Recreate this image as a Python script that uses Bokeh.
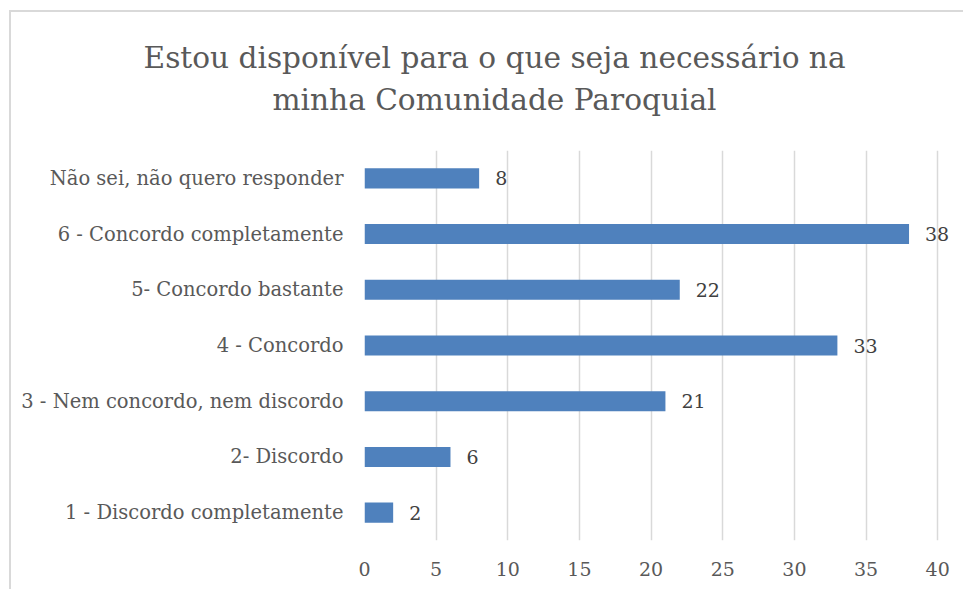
from bokeh.plotting import figure
from bokeh.layouts import column
from bokeh.models import ColumnDataSource, FactorRange, Range1d, SingleIntervalTicker, LabelSet
from bokeh.core.properties import value
from bokeh.embed import file_html
from bokeh.resources import INLINE

# ---- data ----
categories = [
    "1 - Discordo completamente",
    "2- Discordo",
    "3 - Nem concordo, nem discordo",
    "4 - Concordo",
    "5- Concordo bastante",
    "6 - Concordo completamente",
    "Não sei, não quero responder",
]
counts = [2, 6, 21, 33, 22, 38, 8]
title_lines = ["Estou disponível para o que seja necessário na", "minha Comunidade Paroquial"]
tick_step = 5

FONT = "DejaVu Serif"
BAR = "#4f81bd"
GRID = "#d9d9d9"
LABEL_C = "#595959"
VALUE_C = "#404040"

W = 952
TITLE_H = 138
CHART_H = 439

# ---- title strip ----
t = figure(width=W, height=TITLE_H, x_range=Range1d(0, 1), y_range=Range1d(0, 1),
           output_backend="svg", toolbar_location=None,
           min_border_left=0, min_border_right=0, min_border_top=0, min_border_bottom=0)
t.frame_align = False
t.axis.visible = False
t.grid.visible = False
t.outline_line_color = None
t.background_fill_color = "white"
t.border_fill_color = "white"
tsrc = ColumnDataSource(dict(x=[0.5074, 0.5074], y=[0.667, 0.363], txt=title_lines))
t.text(x="x", y="y", text="txt", source=tsrc, text_align="center", text_baseline="alphabetic",
       text_font=value(FONT), text_font_size=value("29.6px"), text_color=LABEL_C)

# ---- chart ----
src = ColumnDataSource(dict(cat=categories, n=counts, lab=[str(v) for v in counts]))

p = figure(
    width=W, height=CHART_H,
    y_range=FactorRange(factors=categories, range_padding=0),
    x_range=Range1d(0, 41.8),
    output_backend="svg", toolbar_location=None,
    min_border_left=353, min_border_right=0, min_border_top=0, min_border_bottom=49,
)
p.frame_align = False
p.outline_line_color = None
p.background_fill_color = "white"
p.border_fill_color = "white"

p.hbar(y="cat", right="n", left=0, height=0.36, source=src, fill_color=BAR, line_color=None)

p.add_layout(LabelSet(x="n", y="cat", text="lab", source=src, x_offset=16,
                      text_align="left", text_baseline="middle",
                      text_font=value(FONT), text_font_size=value("19px"), text_color=VALUE_C))

p.xaxis.ticker = SingleIntervalTicker(interval=tick_step)
p.xaxis.axis_line_color = None
p.xaxis.major_tick_line_color = None
p.xaxis.minor_tick_line_color = None
p.xaxis.major_label_text_font = FONT
p.xaxis.major_label_text_font_size = "19px"
p.xaxis.major_label_text_color = LABEL_C
p.xaxis.major_label_standoff = 15

p.yaxis.axis_line_color = None
p.yaxis.major_tick_line_color = None
p.yaxis.minor_tick_line_color = None
p.yaxis.major_label_text_font = FONT
p.yaxis.major_label_text_font_size = "19.5px"
p.yaxis.major_label_text_color = LABEL_C
p.yaxis.major_label_standoff = 15

p.ygrid.grid_line_color = None
p.xgrid.grid_line_color = GRID
p.xgrid.grid_line_width = 1.5

layout = column(t, p, spacing=0)
layout.styles = {"margin-left": "9px", "margin-top": "10px",
                 "border-top": "2px solid #d9d9d9", "border-left": "2px solid #d9d9d9"}

open("out.html", "w").write(file_html(layout, INLINE))
